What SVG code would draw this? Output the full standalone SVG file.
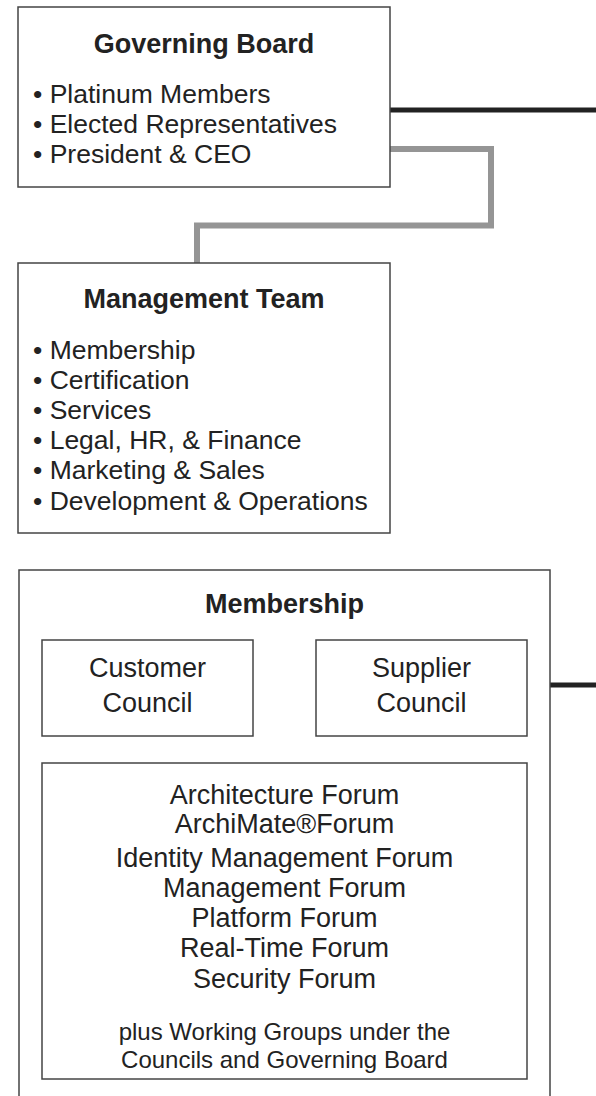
<svg xmlns="http://www.w3.org/2000/svg" width="596" height="1096" viewBox="0 0 596 1096">
<style>
.box{fill:#fff;stroke:#444;stroke-width:1.5}
.t{font-family:"Liberation Sans",Arial,sans-serif;fill:#222}
.title{font-size:27px;font-weight:bold;text-anchor:middle}
.b{font-size:26.5px}
.c{font-size:27px;text-anchor:middle}
.s{font-size:24px;text-anchor:middle}
</style>
<rect width="596" height="1096" fill="#fff"/>
<g id="connectors" fill="none">
<path d="M390 110H596" stroke="#222" stroke-width="5"/>
<path d="M550 685H596" stroke="#222" stroke-width="5"/>
<path d="M390 149H491V225.5H197V263" stroke="#959595" stroke-width="6"/>
</g>
<g id="governing-board">
<rect class="box" x="18" y="7" width="372" height="180"/>
<text class="t title" x="204" y="53">Governing Board</text>
<text class="t b" x="33" y="103">• Platinum Members</text>
<text class="t b" x="33" y="133">• Elected Representatives</text>
<text class="t b" x="33" y="163">• President &amp; CEO</text>
</g>
<g id="management-team">
<rect class="box" x="18" y="263" width="372" height="270"/>
<text class="t title" x="204" y="308">Management Team</text>
<text class="t b" x="33" y="359">• Membership</text>
<text class="t b" x="33" y="389">• Certification</text>
<text class="t b" x="33" y="419">• Services</text>
<text class="t b" x="33" y="449">• Legal, HR, &amp; Finance</text>
<text class="t b" x="33" y="479">• Marketing &amp; Sales</text>
<text class="t b" x="33" y="510">• Development &amp; Operations</text>
</g>
<g id="membership">
<rect class="box" x="19" y="570" width="531" height="540"/>
<text class="t title" x="284.5" y="613">Membership</text>
</g>
<g id="customer-council">
<rect class="box" x="42" y="640" width="211" height="96"/>
<text class="t c" x="147.5" y="677">Customer</text>
<text class="t c" x="147.5" y="712">Council</text>
</g>
<g id="supplier-council">
<rect class="box" x="316" y="640" width="211" height="96"/>
<text class="t c" x="421.5" y="677">Supplier</text>
<text class="t c" x="421.5" y="712">Council</text>
</g>
<g id="forums">
<rect class="box" x="42" y="763" width="485" height="316"/>
<text class="t c" x="284.5" y="804">Architecture Forum</text>
<text class="t c" x="284.5" y="833">ArchiMate®Forum</text>
<text class="t c" x="284.5" y="867">Identity Management Forum</text>
<text class="t c" x="284.5" y="897">Management Forum</text>
<text class="t c" x="284.5" y="927">Platform Forum</text>
<text class="t c" x="284.5" y="957">Real-Time Forum</text>
<text class="t c" x="284.5" y="988">Security Forum</text>
<text class="t s" x="284.5" y="1040">plus Working Groups under the</text>
<text class="t s" x="284.5" y="1068">Councils and Governing Board</text>
</g>
</svg>
